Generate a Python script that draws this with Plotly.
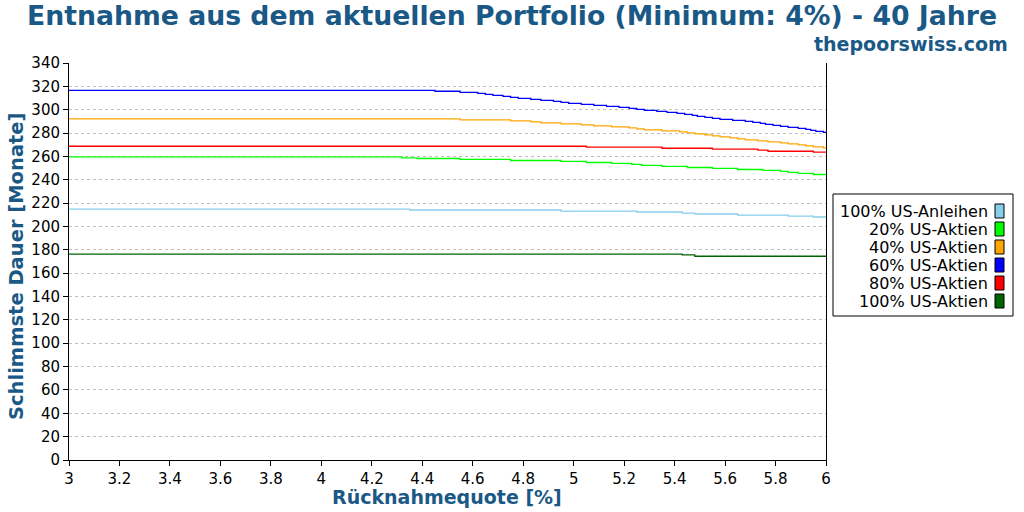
import plotly.graph_objects as go

# step breakpoints (x = withdrawal rate in %, y = worst duration in months)
anleihen_x = [3, 4.35, 4.95, 5.25, 5.43, 5.48, 5.65, 5.85, 5.95, 6]
anleihen_y = [214.9, 214.1, 213.2, 212.4, 211.5, 210.7, 209.8, 208.9, 208.1, 208.1]

aktien20_x = [3, 4.32, 4.38, 4.55, 4.75, 4.95, 5.05, 5.15, 5.23, 5.27, 5.35, 5.45,
              5.55, 5.65, 5.75, 5.82, 5.85, 5.89, 5.95, 6]
aktien20_y = [259.6, 258.7, 258.2, 257.4, 256.5, 255.7, 254.8, 254.0, 253.1, 252.3,
              251.4, 250.5, 249.7, 248.8, 248.0, 247.1, 246.3, 245.4, 244.5, 244.5]

aktien40_x = [3, 4.55, 4.75, 4.83, 4.87, 4.95, 5.03, 5.08, 5.15, 5.22, 5.25, 5.28,
              5.35, 5.42, 5.45, 5.48, 5.52, 5.55, 5.58, 5.62, 5.65, 5.68, 5.73, 5.77,
              5.82, 5.85, 5.89, 5.92, 5.95, 5.99, 6]
aktien40_y = [292.2, 291.3, 290.5, 289.6, 288.8, 287.9, 287.0, 286.2, 285.3, 284.5,
              283.6, 282.8, 281.9, 281.0, 280.2, 279.3, 278.5, 277.6, 276.8, 275.9,
              275.0, 274.2, 273.3, 272.5, 271.6, 270.8, 269.9, 269.0, 268.2, 267.3, 267.3]

aktien60_x = [3, 4.45, 4.55, 4.62, 4.65, 4.68, 4.72, 4.75, 4.78, 4.83, 4.87, 4.92,
              4.95, 4.98, 5.03, 5.08, 5.13, 5.18, 5.22, 5.25, 5.28, 5.33, 5.37, 5.41,
              5.44, 5.47, 5.49, 5.52, 5.55, 5.58, 5.63, 5.68, 5.71, 5.74, 5.76, 5.79,
              5.82, 5.85, 5.89, 5.92, 5.94, 5.96, 5.99, 6]
aktien60_y = [316.6, 315.8, 314.9, 314.0, 313.2, 312.3, 311.5, 310.6, 309.7, 308.9,
              308.0, 307.2, 306.3, 305.5, 304.6, 303.7, 302.9, 302.0, 301.2, 300.3,
              299.5, 298.6, 297.7, 296.9, 296.0, 295.2, 294.3, 293.5, 292.6, 291.7,
              290.9, 290.0, 289.2, 288.3, 287.5, 286.6, 285.7, 284.9, 284.0, 283.2,
              282.3, 281.5, 280.6, 280.6]

aktien80_x = [3, 5.05, 5.35, 5.55, 5.73, 5.77, 5.95, 6]
aktien80_y = [268.7, 267.9, 267.0, 266.2, 265.3, 264.4, 263.6, 263.6]

aktien100_x = [3, 5.43, 5.48, 6]
aktien100_y = [176.4, 175.6, 174.5, 174.5]

series_names = [
    "100% US-Anleihen",
    "20% US-Aktien",
    "40% US-Aktien",
    "60% US-Aktien",
    "80% US-Aktien",
    "100% US-Aktien",
]
series_colors = ["#87ceeb", "#00ff00", "#ffa500", "#0000ff", "#ff0000", "#006400"]

TITLE_BLUE = "#1a5886"
FONT = "DejaVu Sans"

# plot area in pixels (1024x512 window)
L, R, T, B = 69, 826, 63, 460
W, H = 1024, 512


def px_x(p):
    return (p - L) / (R - L)


def px_y(p):
    return (B - p) / (B - T)


fig = go.Figure()
data = [
    (anleihen_x, anleihen_y),
    (aktien20_x, aktien20_y),
    (aktien40_x, aktien40_y),
    (aktien60_x, aktien60_y),
    (aktien80_x, aktien80_y),
    (aktien100_x, aktien100_y),
]
for (xs, ys), name, color in zip(data, series_names, series_colors):
    fig.add_trace(
        go.Scatter(
            x=xs,
            y=ys,
            mode="lines",
            name=name,
            line=dict(color=color, width=1.3, shape="hv"),
            showlegend=False,
        )
    )

# hand-made legend: right aligned labels with a colour box on the right
annotations = []
shapes = [
    dict(type="rect", xref="paper", yref="paper",
         x0=px_x(833), x1=px_x(1013), y0=px_y(316), y1=px_y(194),
         line=dict(color="black", width=1), fillcolor="white", layer="above"),
]
for i, (name, color) in enumerate(zip(series_names, series_colors)):
    cy = 211 + i * 18
    annotations.append(dict(
        text=name, xref="paper", yref="paper", x=px_x(990), y=px_y(cy),
        xanchor="right", yanchor="middle", showarrow=False,
        font=dict(family=FONT, size=16, color="black"),
    ))
    shapes.append(dict(
        type="rect", xref="paper", yref="paper",
        x0=px_x(995), x1=px_x(1004), y0=px_y(cy + 7), y1=px_y(cy - 7),
        line=dict(color="black", width=1), fillcolor=color, layer="above",
    ))

annotations += [
    dict(
        text="<b>thepoorswiss.com</b>", xref="paper", yref="paper",
        x=px_x(1010), y=px_y(44), xanchor="right", yanchor="middle", showarrow=False,
        font=dict(family=FONT, size=19, color=TITLE_BLUE),
    ),
    # axis titles as annotations so they sit exactly where the original has them
    dict(
        text="<b>Rücknahmequote [%]</b>", xref="paper", yref="paper",
        x=px_x(447), y=px_y(497), xanchor="center", yanchor="middle",
        showarrow=False, borderpad=0,
        font=dict(family=FONT, size=19, color=TITLE_BLUE),
    ),
    dict(
        text="<b>Schlimmste Dauer [Monate]</b>", xref="paper", yref="paper",
        x=px_x(16), y=px_y(266), xanchor="center", yanchor="middle",
        textangle=-90, showarrow=False, borderpad=0,
        font=dict(family=FONT, size=19.5, color=TITLE_BLUE),
    ),
]

fig.update_layout(
    width=W,
    height=H,
    margin=dict(l=L, r=W - R, t=T, b=H - B, autoexpand=False),
    paper_bgcolor="white",
    plot_bgcolor="white",
    font=dict(family=FONT, size=15, color="black"),
    title=dict(
        text="<b>Entnahme aus dem aktuellen Portfolio (Minimum: 4%) - 40 Jahre</b>",
        x=0.5, xanchor="center", y=1 - 16 / H, yanchor="middle",
        font=dict(family=FONT, size=26.7, color=TITLE_BLUE),
    ),
    xaxis=dict(
        range=[3, 6], tick0=3, dtick=0.2, showgrid=False, zeroline=False,
        showline=True, linecolor="black", linewidth=1, automargin=False,
        ticks="outside", ticklen=5, tickcolor="black",
        tickfont=dict(family=FONT, size=15, color="black"),
    ),
    yaxis=dict(
        range=[0, 340], tick0=0, dtick=20, showgrid=True,
        gridcolor="#c0c0c0", griddash="dot", gridwidth=1, zeroline=False,
        showline=True, linecolor="black", linewidth=1, mirror=True,
        automargin=False,
        ticks="outside", ticklen=5, tickcolor="black",
        tickfont=dict(family=FONT, size=15, color="black"),
    ),
    annotations=annotations,
    shapes=shapes,
)

fig.write_html(
    "out.html",
    config={"displayModeBar": False},
    post_script="document.body.style.margin='0';",
)
